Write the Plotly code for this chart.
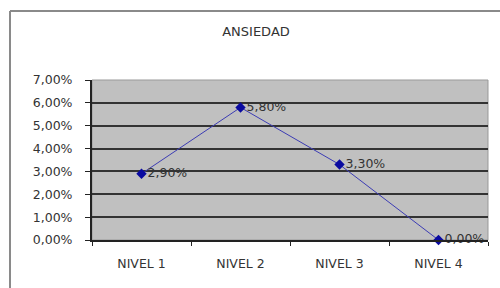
import plotly.graph_objects as go

categories = ["NIVEL 1", "NIVEL 2", "NIVEL 3", "NIVEL 4"]
values = [0.029, 0.058, 0.033, 0.0]
labels = ["2,90%", "5,80%", "3,30%", "0,00%"]
y_ticks = [0, 0.01, 0.02, 0.03, 0.04, 0.05, 0.06, 0.07]

W, H = 500, 288
L, R, T, B = 92, 12, 80, 48
pw, ph = W - L - R, H - T - B
FONT = "DejaVu Sans, Verdana, Arial"
TXT = "#333333"
FS = 12.5

def px(x):
    return (x - L) / pw

def py(y):
    return (H - B - y) / ph

fig = go.Figure()
fig.add_trace(go.Scatter(
    x=categories, y=values, mode="lines+markers+text",
    text=labels, textposition="middle right",
    textfont=dict(size=FS, color=TXT, family=FONT),
    line=dict(color="#3c3cb4", width=1),
    marker=dict(symbol="diamond", size=8, color="#0a0aa0"),
    cliponaxis=False, showlegend=False, hoverinfo="skip",
))

frame = dict(color="#8a8a8a", width=2)
fig.update_layout(
    width=W, height=H,
    margin=dict(l=L, r=R, t=T, b=B),
    paper_bgcolor="white",
    plot_bgcolor="#c0c0c0",
    separators=",.",
    font=dict(family=FONT, size=FS, color=TXT),
    title=dict(text="ANSIEDAD", x=256 / W, xanchor="center", y=1 - 31 / H, yanchor="middle",
               font=dict(size=13, color=TXT, family=FONT)),
    xaxis=dict(
        type="category", range=[-0.5, 3.5], showgrid=False, zeroline=False,
        showline=True, linecolor="#222222", linewidth=2,
        ticks="outside", tickson="boundaries", ticklen=4, tickcolor="#222222",
        tickfont=dict(size=FS), ticklabelstandoff=11,
    ),
    yaxis=dict(
        range=[0, 0.07], tickvals=y_ticks, tickformat=".2%",
        showgrid=True, gridcolor="#333333", gridwidth=1.5, zeroline=False,
        showline=True, linecolor="#222222", linewidth=2,
        ticks="outside", ticklen=5, tickcolor="#222222",
        tickfont=dict(size=FS), ticklabelstandoff=10,
    ),
    shapes=[
        dict(type="line", xref="paper", yref="paper",
             x0=px(10), x1=px(500), y0=py(11), y1=py(11), line=frame),
        dict(type="line", xref="paper", yref="paper",
             x0=px(10), x1=px(10), y0=py(11), y1=py(288), line=frame),
        dict(type="rect", xref="paper", yref="paper",
             x0=0, x1=1, y0=0, y1=1,
             line=dict(color="#999999", width=1), layer="below"),
    ],
)

fig.write_html("out.html", config={"displayModeBar": False},
               post_script="document.body.style.margin='0';document.body.style.overflow='hidden';")
